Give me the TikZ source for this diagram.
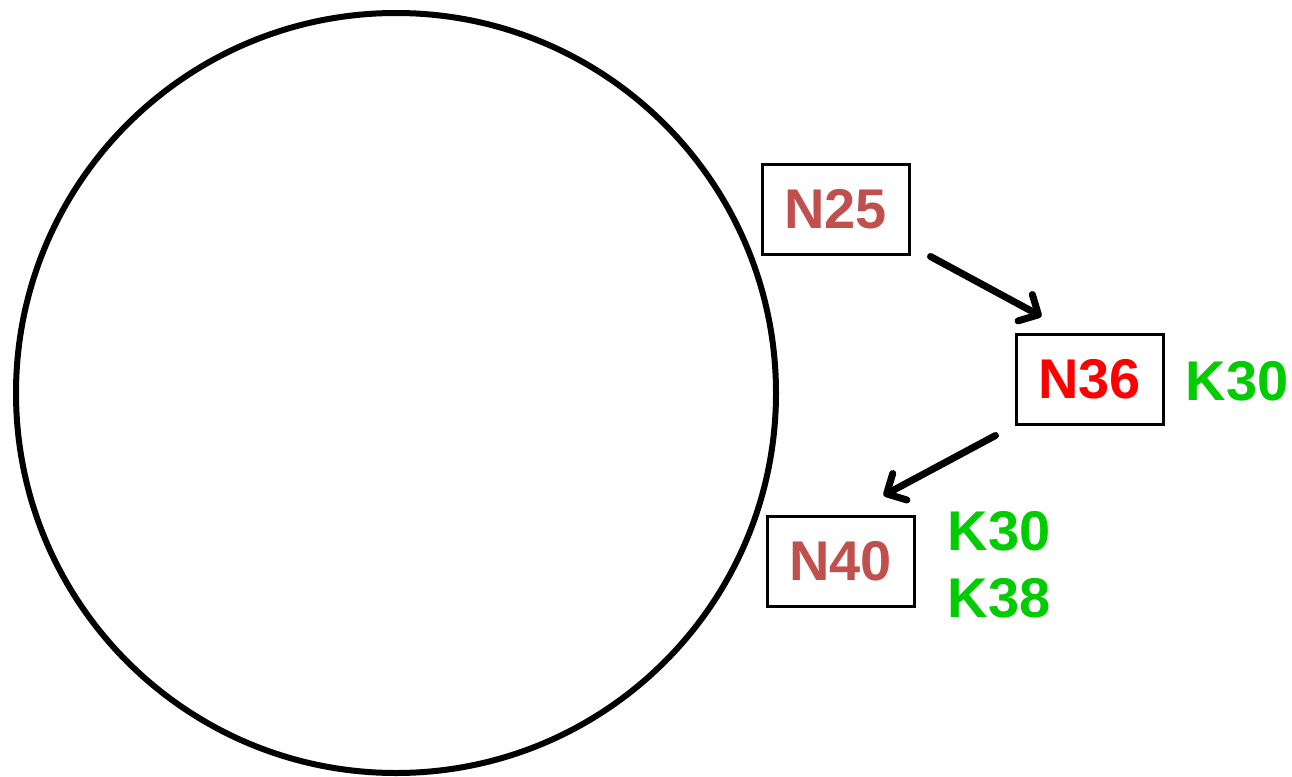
\documentclass[tikz,border=0pt]{standalone}
\usepackage{fontspec}
\setmainfont{Liberation Sans}
\usetikzlibrary{arrows.meta}
\definecolor{nodered}{HTML}{C0504D}
\definecolor{hotred}{HTML}{FF0000}
\definecolor{keygreen}{HTML}{00CC00}
\begin{document}
\begin{tikzpicture}[x=1pt,y=-1pt,
  ringnode/.style={draw=black, line width=3pt, minimum width=147pt, minimum height=90pt,
    inner sep=0pt, font=\fontsize{56}{60}\selectfont\bfseries},
  keylabel/.style={text=keygreen, inner sep=0pt, font=\fontsize{56}{60}\selectfont\bfseries},
  hop/.style={line width=7pt, line cap=round,
    -{Straight Barb[length=15pt,width=30pt,line width=7pt,round]}}]
  \useasboundingbox (0,0) rectangle (1292,776);
  % identifier ring
  \draw[line width=6pt] (396,393) circle[radius=380];
  % nodes on the ring
  \node[ringnode, text=nodered] (n25) at (835.5,209) {N25};
  \node[ringnode, text=hotred] (n36) at (1089.5,379) {N36};
  \node[ringnode, text=nodered] (n40) at (840.5,561) {N40};
  % stored keys
  \node[keylabel] (k36) at (1237,381) {K30};
  \node[keylabel] (k40a) at (999,531) {K30};
  \node[keylabel] (k40b) at (999,598) {K38};
  % lookup hops
  \coordinate (a1) at ([shift={(20,1)}]n25.south east);
  \coordinate (b1) at ([shift={(27,-16)}]n36.north west);
  \coordinate (a2) at ([shift={(-19,10)}]n36.south west);
  \coordinate (b2) at ([shift={(43,-19)}]n40.north);
  \draw[hop] (a1) -- (b1);
  \draw[hop] (a2) -- (b2);
\end{tikzpicture}
\end{document}
